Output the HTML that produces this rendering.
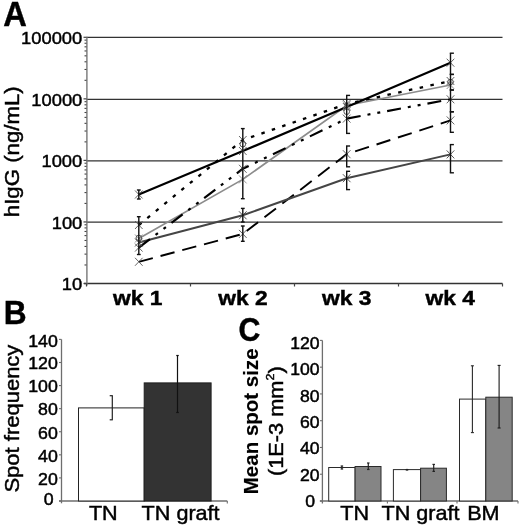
<!DOCTYPE html>
<html><head><meta charset="utf-8"><style>
html,body{margin:0;padding:0;background:#fff;}
svg{display:block;filter:blur(0.3px);}
text{font-family:"Liberation Sans",sans-serif;fill:#000;stroke:#000;stroke-width:0.45px;}
</style></head><body>
<svg width="520" height="526" viewBox="0 0 520 526">
<rect width="520" height="526" fill="#fff"/>
<line x1="86.5" y1="37.4" x2="502.5" y2="37.4" stroke="#333" stroke-width="1.25"/>
<line x1="86.5" y1="99.4" x2="502.5" y2="99.4" stroke="#333" stroke-width="1.25"/>
<line x1="86.5" y1="160.9" x2="502.5" y2="160.9" stroke="#333" stroke-width="1.25"/>
<line x1="86.5" y1="222.1" x2="502.5" y2="222.1" stroke="#333" stroke-width="1.25"/>
<line x1="84.0" y1="283.5" x2="502.5" y2="283.5" stroke="#333" stroke-width="1.3"/>
<line x1="86.9" y1="36.70" x2="86.9" y2="285.50" stroke="#777" stroke-width="1.4"/>
<line x1="83.5" y1="283.50" x2="86.5" y2="283.50" stroke="#444" stroke-width="1.2"/>
<line x1="84.5" y1="264.97" x2="86.5" y2="264.97" stroke="#444" stroke-width="1.1"/>
<line x1="84.5" y1="254.13" x2="86.5" y2="254.13" stroke="#444" stroke-width="1.1"/>
<line x1="84.5" y1="246.44" x2="86.5" y2="246.44" stroke="#444" stroke-width="1.1"/>
<line x1="84.5" y1="240.48" x2="86.5" y2="240.48" stroke="#444" stroke-width="1.1"/>
<line x1="84.5" y1="235.60" x2="86.5" y2="235.60" stroke="#444" stroke-width="1.1"/>
<line x1="84.5" y1="231.48" x2="86.5" y2="231.48" stroke="#444" stroke-width="1.1"/>
<line x1="84.5" y1="227.91" x2="86.5" y2="227.91" stroke="#444" stroke-width="1.1"/>
<line x1="84.5" y1="224.77" x2="86.5" y2="224.77" stroke="#444" stroke-width="1.1"/>
<line x1="83.5" y1="221.95" x2="86.5" y2="221.95" stroke="#444" stroke-width="1.2"/>
<line x1="84.5" y1="203.42" x2="86.5" y2="203.42" stroke="#444" stroke-width="1.1"/>
<line x1="84.5" y1="192.58" x2="86.5" y2="192.58" stroke="#444" stroke-width="1.1"/>
<line x1="84.5" y1="184.89" x2="86.5" y2="184.89" stroke="#444" stroke-width="1.1"/>
<line x1="84.5" y1="178.93" x2="86.5" y2="178.93" stroke="#444" stroke-width="1.1"/>
<line x1="84.5" y1="174.05" x2="86.5" y2="174.05" stroke="#444" stroke-width="1.1"/>
<line x1="84.5" y1="169.93" x2="86.5" y2="169.93" stroke="#444" stroke-width="1.1"/>
<line x1="84.5" y1="166.36" x2="86.5" y2="166.36" stroke="#444" stroke-width="1.1"/>
<line x1="84.5" y1="163.22" x2="86.5" y2="163.22" stroke="#444" stroke-width="1.1"/>
<line x1="83.5" y1="160.40" x2="86.5" y2="160.40" stroke="#444" stroke-width="1.2"/>
<line x1="84.5" y1="141.87" x2="86.5" y2="141.87" stroke="#444" stroke-width="1.1"/>
<line x1="84.5" y1="131.03" x2="86.5" y2="131.03" stroke="#444" stroke-width="1.1"/>
<line x1="84.5" y1="123.34" x2="86.5" y2="123.34" stroke="#444" stroke-width="1.1"/>
<line x1="84.5" y1="117.38" x2="86.5" y2="117.38" stroke="#444" stroke-width="1.1"/>
<line x1="84.5" y1="112.50" x2="86.5" y2="112.50" stroke="#444" stroke-width="1.1"/>
<line x1="84.5" y1="108.38" x2="86.5" y2="108.38" stroke="#444" stroke-width="1.1"/>
<line x1="84.5" y1="104.81" x2="86.5" y2="104.81" stroke="#444" stroke-width="1.1"/>
<line x1="84.5" y1="101.67" x2="86.5" y2="101.67" stroke="#444" stroke-width="1.1"/>
<line x1="83.5" y1="98.85" x2="86.5" y2="98.85" stroke="#444" stroke-width="1.2"/>
<line x1="84.5" y1="80.32" x2="86.5" y2="80.32" stroke="#444" stroke-width="1.1"/>
<line x1="84.5" y1="69.48" x2="86.5" y2="69.48" stroke="#444" stroke-width="1.1"/>
<line x1="84.5" y1="61.79" x2="86.5" y2="61.79" stroke="#444" stroke-width="1.1"/>
<line x1="84.5" y1="55.83" x2="86.5" y2="55.83" stroke="#444" stroke-width="1.1"/>
<line x1="84.5" y1="50.95" x2="86.5" y2="50.95" stroke="#444" stroke-width="1.1"/>
<line x1="84.5" y1="46.83" x2="86.5" y2="46.83" stroke="#444" stroke-width="1.1"/>
<line x1="84.5" y1="43.26" x2="86.5" y2="43.26" stroke="#444" stroke-width="1.1"/>
<line x1="84.5" y1="40.12" x2="86.5" y2="40.12" stroke="#444" stroke-width="1.1"/>
<line x1="83.5" y1="37.30" x2="86.5" y2="37.30" stroke="#444" stroke-width="1.2"/>
<line x1="86.50" y1="283.50" x2="86.50" y2="286.50" stroke="#444" stroke-width="1.2"/>
<line x1="190.50" y1="283.50" x2="190.50" y2="286.50" stroke="#444" stroke-width="1.2"/>
<line x1="294.50" y1="283.50" x2="294.50" y2="286.50" stroke="#444" stroke-width="1.2"/>
<line x1="398.50" y1="283.50" x2="398.50" y2="286.50" stroke="#444" stroke-width="1.2"/>
<line x1="502.50" y1="283.50" x2="502.50" y2="286.50" stroke="#444" stroke-width="1.2"/>
<text x="0" y="0" transform="translate(82.3,44.20) scale(1.08,1)" text-anchor="end" font-size="17">100000</text>
<text x="0" y="0" transform="translate(82.3,105.75) scale(1.08,1)" text-anchor="end" font-size="17">10000</text>
<text x="0" y="0" transform="translate(82.3,167.30) scale(1.08,1)" text-anchor="end" font-size="17">1000</text>
<text x="0" y="0" transform="translate(82.3,228.85) scale(1.08,1)" text-anchor="end" font-size="17">100</text>
<text x="0" y="0" transform="translate(82.3,290.40) scale(1.08,1)" text-anchor="end" font-size="17">10</text>
<text x="0" y="0" transform="translate(137.8,304.6) scale(1.085,1)" text-anchor="middle" font-size="21" font-weight="bold">wk 1</text>
<text x="0" y="0" transform="translate(243.0,304.6) scale(1.085,1)" text-anchor="middle" font-size="21" font-weight="bold">wk 2</text>
<text x="0" y="0" transform="translate(346.7,304.6) scale(1.085,1)" text-anchor="middle" font-size="21" font-weight="bold">wk 3</text>
<text x="0" y="0" transform="translate(450.2,304.6) scale(1.085,1)" text-anchor="middle" font-size="21" font-weight="bold">wk 4</text>
<text x="0" y="0" transform="translate(19.1,151.75) scale(1,1.084) rotate(-90)" text-anchor="middle" font-size="20.5">hIgG (ng/mL)</text>
<text x="0" y="0" transform="translate(3.2,25.5) scale(0.95,1)" font-size="34.4" font-weight="bold">A</text>
<polyline points="138.8,261.8 242.8,233.9 346.7,154.2 450.5,120.4" fill="none" stroke="#000" stroke-width="1.9" stroke-dasharray="14.5 8"/>
<polyline points="138.8,242.5 242.8,215.3 346.7,178.2 450.5,154.4" fill="none" stroke="#454545" stroke-width="2.0"/>
<polyline points="138.8,238.5 242.8,179.4 346.7,105.5 450.5,85" fill="none" stroke="#8c8c8c" stroke-width="1.7"/>
<polyline points="138.8,247.6 242.8,168.8 346.7,118.6 450.5,99.3" fill="none" stroke="#000" stroke-width="2.2" stroke-dasharray="14 7 3 7 3 7"/>
<polyline points="138.8,225 242.8,140 346.7,104 450.5,81" fill="none" stroke="#000" stroke-width="2.3" stroke-dasharray="3.5 7.5"/>
<polyline points="138.8,194.5 242.8,151 346.7,107 450.5,62.7" fill="none" stroke="#000" stroke-width="2.2"/>
<path d="M135.0,257.81L142.60000000000002,265.79M135.0,265.79L142.60000000000002,257.81" stroke="#555" stroke-width="0.9" fill="none"/>
<path d="M239.0,229.91L246.60000000000002,237.89000000000001M239.0,237.89000000000001L246.60000000000002,229.91" stroke="#555" stroke-width="0.9" fill="none"/>
<path d="M342.9,150.20999999999998L350.5,158.19M342.9,158.19L350.5,150.20999999999998" stroke="#555" stroke-width="0.9" fill="none"/>
<path d="M446.7,116.41000000000001L454.3,124.39M446.7,124.39L454.3,116.41000000000001" stroke="#555" stroke-width="0.9" fill="none"/>
<path d="M135.0,238.51L142.60000000000002,246.49M135.0,246.49L142.60000000000002,238.51" stroke="#454545" stroke-width="0.9" fill="none"/>
<path d="M239.0,211.31L246.60000000000002,219.29000000000002M239.0,219.29000000000002L246.60000000000002,211.31" stroke="#454545" stroke-width="0.9" fill="none"/>
<path d="M342.9,174.20999999999998L350.5,182.19M342.9,182.19L350.5,174.20999999999998" stroke="#454545" stroke-width="0.9" fill="none"/>
<path d="M446.7,150.41L454.3,158.39000000000001M446.7,158.39000000000001L454.3,150.41" stroke="#454545" stroke-width="0.9" fill="none"/>
<path d="M135.0,234.51L142.60000000000002,242.49M135.0,242.49L142.60000000000002,234.51" stroke="#8c8c8c" stroke-width="0.9" fill="none"/>
<path d="M239.0,175.41L246.60000000000002,183.39000000000001M239.0,183.39000000000001L246.60000000000002,175.41" stroke="#8c8c8c" stroke-width="0.9" fill="none"/>
<path d="M342.9,101.51L350.5,109.49M342.9,109.49L350.5,101.51" stroke="#8c8c8c" stroke-width="0.9" fill="none"/>
<path d="M446.7,81.01L454.3,88.99M446.7,88.99L454.3,81.01" stroke="#8c8c8c" stroke-width="0.9" fill="none"/>
<path d="M135.0,243.60999999999999L142.60000000000002,251.59M135.0,251.59L142.60000000000002,243.60999999999999" stroke="#555" stroke-width="0.9" fill="none"/>
<path d="M239.0,164.81L246.60000000000002,172.79000000000002M239.0,172.79000000000002L246.60000000000002,164.81" stroke="#555" stroke-width="0.9" fill="none"/>
<path d="M342.9,114.61L350.5,122.58999999999999M342.9,122.58999999999999L350.5,114.61" stroke="#555" stroke-width="0.9" fill="none"/>
<path d="M446.7,95.31L454.3,103.28999999999999M446.7,103.28999999999999L454.3,95.31" stroke="#555" stroke-width="0.9" fill="none"/>
<path d="M135.0,221.01L142.60000000000002,228.99M135.0,228.99L142.60000000000002,221.01" stroke="#555" stroke-width="0.9" fill="none"/>
<path d="M239.0,136.01L246.60000000000002,143.99M239.0,143.99L246.60000000000002,136.01" stroke="#555" stroke-width="0.9" fill="none"/>
<path d="M342.9,100.01L350.5,107.99M342.9,107.99L350.5,100.01" stroke="#555" stroke-width="0.9" fill="none"/>
<path d="M446.7,77.01L454.3,84.99M446.7,84.99L454.3,77.01" stroke="#555" stroke-width="0.9" fill="none"/>
<path d="M135.0,190.51L142.60000000000002,198.49M135.0,198.49L142.60000000000002,190.51" stroke="#555" stroke-width="0.9" fill="none"/>
<path d="M239.0,147.01L246.60000000000002,154.99M239.0,154.99L246.60000000000002,147.01" stroke="#555" stroke-width="0.9" fill="none"/>
<path d="M342.9,103.01L350.5,110.99M342.9,110.99L350.5,103.01" stroke="#555" stroke-width="0.9" fill="none"/>
<path d="M446.7,58.71L454.3,66.69M446.7,66.69L454.3,58.71" stroke="#555" stroke-width="0.9" fill="none"/>
<circle cx="242.8" cy="144.2" r="2.8" fill="none" stroke="#555" stroke-width="1"/>
<circle cx="138.8" cy="238" r="2.8" fill="none" stroke="#555" stroke-width="1"/>
<circle cx="450.5" cy="82" r="2.8" fill="none" stroke="#555" stroke-width="1"/>
<circle cx="346.7" cy="111.7" r="2.8" fill="none" stroke="#555" stroke-width="1"/>
<line x1="138.8" y1="190" x2="138.8" y2="199" stroke="#111" stroke-width="1.4"/>
<line x1="136.9" y1="190" x2="140.70000000000002" y2="190" stroke="#111" stroke-width="1.4"/>
<line x1="136.9" y1="199" x2="140.70000000000002" y2="199" stroke="#111" stroke-width="1.4"/>
<line x1="138.8" y1="216.7" x2="138.8" y2="254.5" stroke="#111" stroke-width="1.4"/>
<line x1="136.9" y1="216.7" x2="140.70000000000002" y2="216.7" stroke="#111" stroke-width="1.4"/>
<line x1="136.9" y1="254.5" x2="140.70000000000002" y2="254.5" stroke="#111" stroke-width="1.4"/>
<line x1="242.8" y1="128.6" x2="242.8" y2="198.7" stroke="#111" stroke-width="1.4"/>
<line x1="240.9" y1="128.6" x2="244.70000000000002" y2="128.6" stroke="#111" stroke-width="1.4"/>
<line x1="240.9" y1="198.7" x2="244.70000000000002" y2="198.7" stroke="#111" stroke-width="1.4"/>
<line x1="242.8" y1="208.4" x2="242.8" y2="222" stroke="#111" stroke-width="1.4"/>
<line x1="240.9" y1="208.4" x2="244.70000000000002" y2="208.4" stroke="#111" stroke-width="1.4"/>
<line x1="240.9" y1="222" x2="244.70000000000002" y2="222" stroke="#111" stroke-width="1.4"/>
<line x1="242.8" y1="226" x2="242.8" y2="241.3" stroke="#111" stroke-width="1.4"/>
<line x1="240.9" y1="226" x2="244.70000000000002" y2="226" stroke="#111" stroke-width="1.4"/>
<line x1="240.9" y1="241.3" x2="244.70000000000002" y2="241.3" stroke="#111" stroke-width="1.4"/>
<line x1="346.7" y1="95.4" x2="346.7" y2="133.4" stroke="#111" stroke-width="1.4"/>
<line x1="346.0" y1="95.4" x2="350.09999999999997" y2="95.4" stroke="#111" stroke-width="1.4"/>
<line x1="346.0" y1="133.4" x2="350.09999999999997" y2="133.4" stroke="#111" stroke-width="1.4"/>
<line x1="346.7" y1="146" x2="346.7" y2="166.8" stroke="#111" stroke-width="1.4"/>
<line x1="346.0" y1="146" x2="350.09999999999997" y2="146" stroke="#111" stroke-width="1.4"/>
<line x1="346.0" y1="166.8" x2="350.09999999999997" y2="166.8" stroke="#111" stroke-width="1.4"/>
<line x1="346.7" y1="171.3" x2="346.7" y2="189.6" stroke="#111" stroke-width="1.4"/>
<line x1="346.0" y1="171.3" x2="350.09999999999997" y2="171.3" stroke="#111" stroke-width="1.4"/>
<line x1="346.0" y1="189.6" x2="350.09999999999997" y2="189.6" stroke="#111" stroke-width="1.4"/>
<line x1="450.5" y1="53.2" x2="450.5" y2="74.4" stroke="#111" stroke-width="1.4"/>
<line x1="449.8" y1="53.2" x2="453.9" y2="53.2" stroke="#111" stroke-width="1.4"/>
<line x1="449.8" y1="74.4" x2="453.9" y2="74.4" stroke="#111" stroke-width="1.4"/>
<line x1="450.5" y1="74.4" x2="450.5" y2="90" stroke="#111" stroke-width="1.4"/>
<line x1="449.8" y1="74.4" x2="453.9" y2="74.4" stroke="#111" stroke-width="1.4"/>
<line x1="449.8" y1="90" x2="453.9" y2="90" stroke="#111" stroke-width="1.4"/>
<line x1="450.5" y1="90" x2="450.5" y2="111.8" stroke="#111" stroke-width="1.4"/>
<line x1="449.8" y1="90" x2="453.9" y2="90" stroke="#111" stroke-width="1.4"/>
<line x1="449.8" y1="111.8" x2="453.9" y2="111.8" stroke="#111" stroke-width="1.4"/>
<line x1="450.5" y1="111.8" x2="450.5" y2="132.3" stroke="#111" stroke-width="1.4"/>
<line x1="449.8" y1="111.8" x2="453.9" y2="111.8" stroke="#111" stroke-width="1.4"/>
<line x1="449.8" y1="132.3" x2="453.9" y2="132.3" stroke="#111" stroke-width="1.4"/>
<line x1="450.5" y1="144.6" x2="450.5" y2="172.8" stroke="#111" stroke-width="1.4"/>
<line x1="449.8" y1="144.6" x2="453.9" y2="144.6" stroke="#111" stroke-width="1.4"/>
<line x1="449.8" y1="172.8" x2="453.9" y2="172.8" stroke="#111" stroke-width="1.4"/>
<line x1="61.5" y1="339.4" x2="61.5" y2="503.3" stroke="#6e6e6e" stroke-width="1.3"/>
<line x1="59.0" y1="501.0" x2="227.3" y2="501.0" stroke="#6e6e6e" stroke-width="1.5"/>
<line x1="59.0" y1="501.00" x2="61.5" y2="501.00" stroke="#6e6e6e" stroke-width="1.1"/>
<text x="0" y="0" transform="translate(53.599999999999994,504.80) scale(1.11,1)" text-anchor="end" font-size="16">0</text>
<line x1="59.0" y1="477.91" x2="61.5" y2="477.91" stroke="#6e6e6e" stroke-width="1.1"/>
<text x="0" y="0" transform="translate(57.8,484.72) scale(1.11,1)" text-anchor="end" font-size="16">20</text>
<line x1="59.0" y1="454.83" x2="61.5" y2="454.83" stroke="#6e6e6e" stroke-width="1.1"/>
<text x="0" y="0" transform="translate(57.8,461.63) scale(1.11,1)" text-anchor="end" font-size="16">40</text>
<line x1="59.0" y1="431.74" x2="61.5" y2="431.74" stroke="#6e6e6e" stroke-width="1.1"/>
<text x="0" y="0" transform="translate(57.8,438.55) scale(1.11,1)" text-anchor="end" font-size="16">60</text>
<line x1="59.0" y1="408.66" x2="61.5" y2="408.66" stroke="#6e6e6e" stroke-width="1.1"/>
<text x="0" y="0" transform="translate(57.8,415.46) scale(1.11,1)" text-anchor="end" font-size="16">80</text>
<line x1="59.0" y1="385.57" x2="61.5" y2="385.57" stroke="#6e6e6e" stroke-width="1.1"/>
<text x="0" y="0" transform="translate(57.8,392.38) scale(1.11,1)" text-anchor="end" font-size="16">100</text>
<line x1="59.0" y1="362.49" x2="61.5" y2="362.49" stroke="#6e6e6e" stroke-width="1.1"/>
<text x="0" y="0" transform="translate(57.8,369.29) scale(1.11,1)" text-anchor="end" font-size="16">120</text>
<line x1="59.0" y1="339.40" x2="61.5" y2="339.40" stroke="#6e6e6e" stroke-width="1.1"/>
<text x="0" y="0" transform="translate(57.8,346.90) scale(1.11,1)" text-anchor="end" font-size="16">140</text>
<line x1="227.3" y1="501.0" x2="227.3" y2="503.5" stroke="#6e6e6e" stroke-width="1.1"/>
<rect x="78.5" y="407.9" width="65.7" height="93.10" fill="#fff" stroke="#222" stroke-width="1"/>
<rect x="144.2" y="382.9" width="66.9" height="118.10" fill="#333" stroke="#1e1e1e" stroke-width="1"/>
<line x1="112.3" y1="395.7" x2="112.3" y2="419.8" stroke="#222" stroke-width="1.2"/>
<line x1="109.7" y1="395.7" x2="112.8" y2="395.7" stroke="#222" stroke-width="1.2"/>
<line x1="109.7" y1="419.8" x2="112.8" y2="419.8" stroke="#222" stroke-width="1.2"/>
<line x1="177.5" y1="355.5" x2="177.5" y2="412.5" stroke="#111" stroke-width="1.2"/>
<line x1="176.25" y1="355.5" x2="178.75" y2="355.5" stroke="#111" stroke-width="1.2"/>
<line x1="176.25" y1="412.5" x2="178.75" y2="412.5" stroke="#111" stroke-width="1.2"/>
<text x="0" y="0" transform="translate(103.3,519.6) scale(1.07,1)" text-anchor="middle" font-size="20.2">TN</text>
<text x="0" y="0" transform="translate(180.6,519.6) scale(1.07,1)" text-anchor="middle" font-size="20.2">TN graft</text>
<text x="0" y="0" transform="translate(19.3,418.6) scale(1,1.1) rotate(-90)" text-anchor="middle" font-size="20">Spot frequency</text>
<text x="0" y="0" transform="translate(3.8,324) scale(0.94,1)" font-size="33.7" font-weight="bold">B</text>
<line x1="322.4" y1="340.4" x2="322.4" y2="503.5" stroke="#6e6e6e" stroke-width="1.3"/>
<line x1="319.9" y1="501.0" x2="518" y2="501.0" stroke="#6e6e6e" stroke-width="1.5"/>
<line x1="319.9" y1="501.00" x2="322.4" y2="501.00" stroke="#6e6e6e" stroke-width="1.1"/>
<text x="0" y="0" transform="translate(315.0,507.10) scale(1.1,1)" text-anchor="end" font-size="16">0</text>
<line x1="319.9" y1="474.23" x2="322.4" y2="474.23" stroke="#6e6e6e" stroke-width="1.1"/>
<text x="0" y="0" transform="translate(319.5,480.70) scale(1.1,1)" text-anchor="end" font-size="16">20</text>
<line x1="319.9" y1="447.47" x2="322.4" y2="447.47" stroke="#6e6e6e" stroke-width="1.1"/>
<text x="0" y="0" transform="translate(319.5,454.30) scale(1.1,1)" text-anchor="end" font-size="16">40</text>
<line x1="319.9" y1="420.70" x2="322.4" y2="420.70" stroke="#6e6e6e" stroke-width="1.1"/>
<text x="0" y="0" transform="translate(319.5,427.90) scale(1.1,1)" text-anchor="end" font-size="16">60</text>
<line x1="319.9" y1="393.93" x2="322.4" y2="393.93" stroke="#6e6e6e" stroke-width="1.1"/>
<text x="0" y="0" transform="translate(319.5,401.50) scale(1.1,1)" text-anchor="end" font-size="16">80</text>
<line x1="319.9" y1="367.17" x2="322.4" y2="367.17" stroke="#6e6e6e" stroke-width="1.1"/>
<text x="0" y="0" transform="translate(319.5,375.10) scale(1.1,1)" text-anchor="end" font-size="16">100</text>
<line x1="319.9" y1="340.40" x2="322.4" y2="340.40" stroke="#6e6e6e" stroke-width="1.1"/>
<text x="0" y="0" transform="translate(319.5,348.70) scale(1.1,1)" text-anchor="end" font-size="16">120</text>
<line x1="387.4" y1="501.0" x2="387.4" y2="503.5" stroke="#6e6e6e" stroke-width="1.1"/>
<line x1="457" y1="501.0" x2="457" y2="503.5" stroke="#6e6e6e" stroke-width="1.1"/>
<line x1="518" y1="501.0" x2="518" y2="503.5" stroke="#6e6e6e" stroke-width="1.1"/>
<rect x="328.7" y="467.50" width="26.40" height="33.50" fill="#fff" stroke="#2a2a2a" stroke-width="1"/>
<rect x="355.1" y="466.50" width="25.90" height="34.50" fill="#858585" stroke="#2a2a2a" stroke-width="1"/>
<rect x="393.4" y="469.60" width="27.20" height="31.40" fill="#fff" stroke="#2a2a2a" stroke-width="1"/>
<rect x="420.6" y="468.20" width="25.80" height="32.80" fill="#858585" stroke="#2a2a2a" stroke-width="1"/>
<rect x="459.5" y="399.10" width="26.30" height="101.90" fill="#fff" stroke="#2a2a2a" stroke-width="1"/>
<rect x="485.8" y="397.20" width="26.40" height="103.80" fill="#858585" stroke="#2a2a2a" stroke-width="1"/>
<line x1="341.9" y1="466" x2="341.9" y2="469" stroke="#222" stroke-width="1.2"/>
<line x1="340.65" y1="466" x2="343.15" y2="466" stroke="#222" stroke-width="1.2"/>
<line x1="340.65" y1="469" x2="343.15" y2="469" stroke="#222" stroke-width="1.2"/>
<line x1="368.3" y1="463" x2="368.3" y2="469.5" stroke="#222" stroke-width="1.2"/>
<line x1="367.05" y1="463" x2="369.55" y2="463" stroke="#222" stroke-width="1.2"/>
<line x1="367.05" y1="469.5" x2="369.55" y2="469.5" stroke="#222" stroke-width="1.2"/>
<line x1="407" y1="469.5" x2="407" y2="470" stroke="#222" stroke-width="1.2"/>
<line x1="405.75" y1="469.5" x2="408.25" y2="469.5" stroke="#222" stroke-width="1.2"/>
<line x1="405.75" y1="470" x2="408.25" y2="470" stroke="#222" stroke-width="1.2"/>
<line x1="433.7" y1="464.4" x2="433.7" y2="471.4" stroke="#222" stroke-width="1.2"/>
<line x1="432.45" y1="464.4" x2="434.95" y2="464.4" stroke="#222" stroke-width="1.2"/>
<line x1="432.45" y1="471.4" x2="434.95" y2="471.4" stroke="#222" stroke-width="1.2"/>
<line x1="472.4" y1="365.8" x2="472.4" y2="432.6" stroke="#2a2a2a" stroke-width="1.1"/>
<line x1="470.9" y1="365.8" x2="473.9" y2="365.8" stroke="#2a2a2a" stroke-width="1.1"/>
<line x1="470.9" y1="432.6" x2="473.9" y2="432.6" stroke="#2a2a2a" stroke-width="1.1"/>
<line x1="499.1" y1="365.4" x2="499.1" y2="428.0" stroke="#1a1a1a" stroke-width="1.1"/>
<line x1="497.6" y1="365.4" x2="500.6" y2="365.4" stroke="#1a1a1a" stroke-width="1.1"/>
<line x1="497.6" y1="428.0" x2="500.6" y2="428.0" stroke="#1a1a1a" stroke-width="1.1"/>
<text x="0" y="0" transform="translate(354.6,519.6) scale(1.07,1)" text-anchor="middle" font-size="20.2">TN</text>
<text x="0" y="0" transform="translate(420.5,519.6) scale(1.07,1)" text-anchor="middle" font-size="20.2">TN graft</text>
<text x="0" y="0" transform="translate(483.4,519.6) scale(1.07,1)" text-anchor="middle" font-size="20.2">BM</text>
<text x="0" y="0" transform="translate(257.7,421.3) scale(1,1.0) rotate(-90)" text-anchor="middle" font-size="20.5" font-weight="bold" style="stroke-width:0.15px">Mean spot size</text>
<text x="0" y="0" transform="translate(283,421.2) scale(1,1.09) rotate(-90)" text-anchor="middle" font-size="20">(1E-3 mm<tspan font-size="11.5" dy="-9.5">2</tspan><tspan dy="9.5">)</tspan></text>
<text x="0" y="0" transform="translate(238.6,340.8) scale(0.91,1)" font-size="33.3" font-weight="bold">C</text>
</svg>
</body></html>
